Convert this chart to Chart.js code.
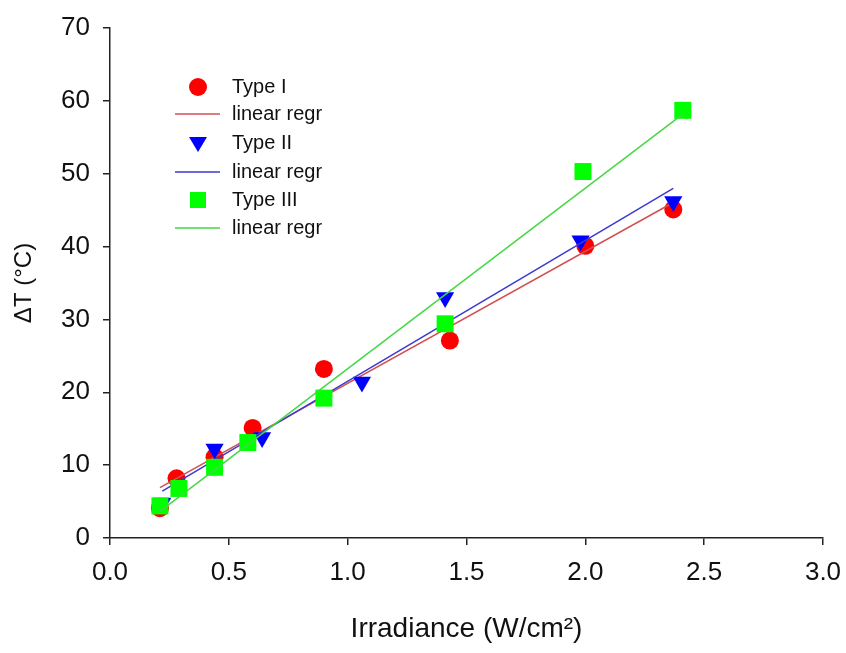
<!DOCTYPE html>
<html lang="en">
<head>
  <meta charset="UTF-8" />
  <title>Irradiance vs Delta T</title>
  <script src="https://cdn.jsdelivr.net/npm/chart.js"></script>
  <style>
    html, body { margin: 0; padding: 0; background: #fff; }
    #wrap { width: 846px; height: 653px; }
  </style>
</head>
<body>
  <div id="wrap"><canvas id="chart" width="846" height="653"></canvas></div>

  <script>
    // values
    const type1X = [0.21, 0.28, 0.44, 0.60, 0.90, 1.43, 2.00, 2.37];
    const type1Y = [4.1, 8.2, 11.1, 15.1, 23.2, 27.1, 40.1, 45.1];
    const type2X = [0.22, 0.44, 0.64, 1.06, 1.41, 1.98, 2.37];
    const type2Y = [4.8, 12.2, 13.8, 21.4, 33.0, 40.8, 46.2];
    const type3X = [0.21, 0.29, 0.44, 0.58, 0.90, 1.41, 1.99, 2.41];
    const type3Y = [4.4, 6.8, 9.7, 13.1, 19.2, 29.4, 50.3, 58.7];

    const legendLabels = ['Type I', 'linear regr', 'Type II', 'linear regr', 'Type III', 'linear regr'];
    const xTicks = [0, 0.5, 1.0, 1.5, 2.0, 2.5, 3.0];
    const yTicks = [0, 10, 20, 30, 40, 50, 60, 70];

    const FONT = 'Arial, "Liberation Sans", sans-serif';

    function pts(xs, ys) {
      return xs.map((x, i) => ({ x: x, y: ys[i] }));
    }

    // least squares fit, drawn from min x to max x like the original
    function regr(xs, ys) {
      const n = xs.length;
      const mx = xs.reduce((a, b) => a + b, 0) / n;
      const my = ys.reduce((a, b) => a + b, 0) / n;
      let sxy = 0, sxx = 0;
      xs.forEach((x, i) => { sxy += (x - mx) * (ys[i] - my); sxx += (x - mx) * (x - mx); });
      const b = sxy / sxx, a = my - b * mx;
      const x0 = Math.min(...xs), x1 = Math.max(...xs);
      return [{ x: x0, y: a + b * x0 }, { x: x1, y: a + b * x1 }];
    }

    // legend drawn inside the plot, top left
    const innerLegend = {
      id: 'innerLegend',
      afterDraw(chart) {
        const ctx = chart.ctx;
        const area = chart.chartArea;
        const mx = area.left + 88;
        const tx = area.left + 122;
        const rows = [59, 86, 115, 144, 172, 200];
        ctx.save();
        ctx.font = '20px ' + FONT;
        ctx.fillStyle = '#111';
        ctx.textBaseline = 'middle';
        ctx.textAlign = 'left';
        rows.forEach((dy, i) => {
          ctx.fillText(legendLabels[i], tx, area.top + dy);
        });
        // markers
        let y = area.top + rows[0];
        ctx.fillStyle = '#ff0000';
        ctx.beginPath(); ctx.arc(mx, y, 9, 0, Math.PI * 2); ctx.fill();
        y = area.top + rows[2];
        ctx.fillStyle = '#0000ff';
        ctx.beginPath(); ctx.moveTo(mx - 9, y - 6); ctx.lineTo(mx + 9, y - 6); ctx.lineTo(mx, y + 9); ctx.closePath(); ctx.fill();
        y = area.top + rows[4];
        ctx.fillStyle = '#00ff00';
        ctx.fillRect(mx - 8, y - 8, 16, 16);
        // lines
        const lineCols = ['#d25050', '#3a3ad0', '#44d844'];
        [1, 3, 5].forEach((r, i) => {
          const ly = area.top + rows[r];
          ctx.strokeStyle = lineCols[i];
          ctx.lineWidth = 1.5;
          ctx.beginPath(); ctx.moveTo(mx - 23, ly); ctx.lineTo(mx + 22, ly); ctx.stroke();
        });
        ctx.restore();
      }
    };

    const ctx = document.getElementById('chart').getContext('2d');
    new Chart(ctx, {
      type: 'scatter',
      data: {
        datasets: [
          { label: 'Type I', data: pts(type1X, type1Y), pointStyle: 'circle', pointRadius: 9,
            backgroundColor: '#ff0000', borderColor: '#ff0000', borderWidth: 0, order: 6 },
          { label: 'linear regr', data: regr(type1X, type1Y), showLine: true, pointRadius: 0,
            borderColor: '#d25050', borderWidth: 1.5, order: 5 },
          { label: 'Type II', data: pts(type2X, type2Y), pointStyle: 'triangle', rotation: 180, pointRadius: 10.5,
            backgroundColor: '#0000ff', borderColor: '#0000ff', borderWidth: 0, order: 4 },
          { label: 'linear regr', data: regr(type2X, type2Y), showLine: true, pointRadius: 0,
            borderColor: '#3a3ad0', borderWidth: 1.5, order: 3 },
          { label: 'Type III', data: pts(type3X, type3Y), pointStyle: 'rect', pointRadius: 12,
            backgroundColor: '#00ff00', borderColor: '#00ff00', borderWidth: 0, order: 2 },
          { label: 'linear regr', data: regr(type3X, type3Y), showLine: true, pointRadius: 0,
            borderColor: '#44d844', borderWidth: 1.5, order: 1 }
        ]
      },
      options: {
        responsive: false,
        animation: false,
        layout: { padding: { top: 28, right: 23, left: 0, bottom: 0 } },
        plugins: { legend: { display: false }, tooltip: { enabled: false } },
        scales: {
          x: {
            type: 'linear', min: 0, max: 3,
            afterFit(s) { s.height = 115; s.paddingLeft = 0; s.paddingRight = 0; },
            afterBuildTicks(s) { s.ticks = xTicks.map(v => ({ value: v })); },
            border: { display: true, color: '#222', width: 1.5 },
            grid: { display: true, drawOnChartArea: false, drawTicks: true, tickLength: 7, color: '#222', lineWidth: 1.5 },
            ticks: { color: '#111', padding: 12, font: { family: FONT, size: 26 }, callback: v => v.toFixed(1) },
            title: { display: true, text: 'Irradiance (W/cm²)', color: '#111',
                     font: { family: FONT, size: 28 }, padding: { top: 0, bottom: 7 } }
          },
          y: {
            type: 'linear', min: 0, max: 70,
            afterFit(s) { s.width = 110; s.paddingTop = 0; s.paddingBottom = 0; },
            afterBuildTicks(s) { s.ticks = yTicks.map(v => ({ value: v })); },
            border: { display: true, color: '#222', width: 1.5 },
            grid: { display: true, drawOnChartArea: false, drawTicks: true, tickLength: 7, color: '#222', lineWidth: 1.5 },
            ticks: { color: '#111', padding: 13, font: { family: FONT, size: 26 } },
            title: { display: true, text: 'ΔT (°C)', color: '#111',
                     font: { family: FONT, size: 24 }, padding: { top: 10, bottom: 0 } }
          }
        }
      },
      plugins: [innerLegend]
    });
  </script>
</body>
</html>
